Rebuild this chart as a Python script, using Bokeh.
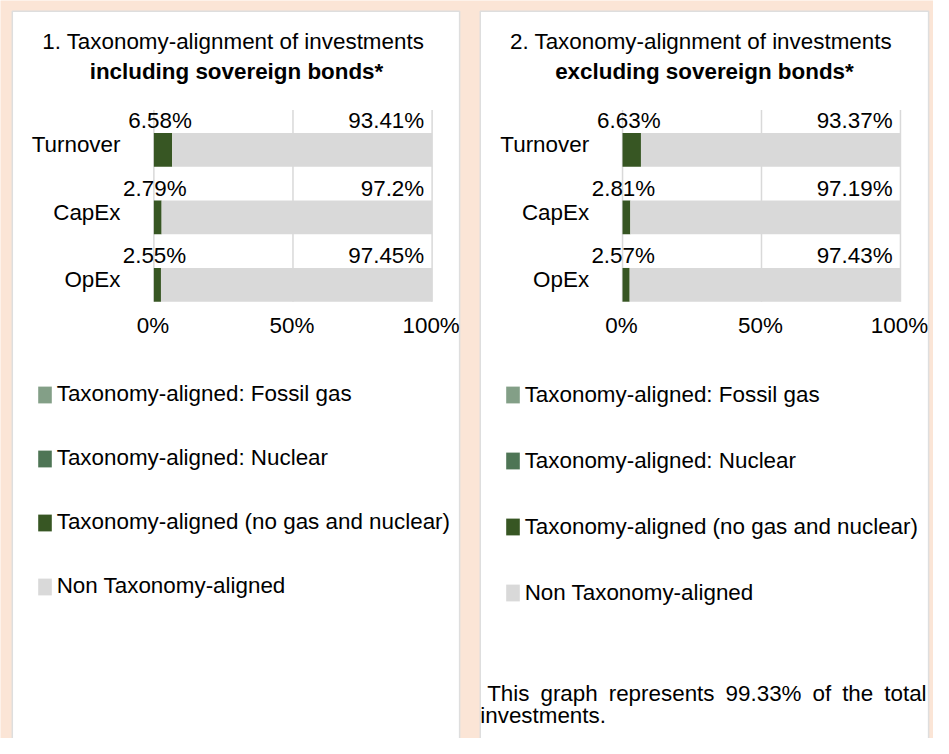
from bokeh.plotting import figure
from bokeh.models import Range1d, ColumnDataSource, Legend, LegendItem
from bokeh.core.properties import value
from bokeh.embed import file_html
from bokeh.resources import INLINE

# ---------------- data ----------------
categories = ["Turnover", "CapEx", "OpEx"]
series_names = ["Taxonomy-aligned: Fossil gas",
                "Taxonomy-aligned: Nuclear",
                "Taxonomy-aligned (no gas and nuclear)",
                "Non Taxonomy-aligned"]
incl_fossil = [0.0, 0.0, 0.0]
incl_nuclear = [0.0, 0.0, 0.0]
incl_aligned = [6.58, 2.79, 2.55]
incl_non = [93.41, 97.2, 97.45]
excl_fossil = [0.0, 0.0, 0.0]
excl_nuclear = [0.0, 0.0, 0.0]
excl_aligned = [6.63, 2.81, 2.57]
excl_non = [93.37, 97.19, 97.43]
x_ticks = [0, 50, 100]
x_tick_labels = ["0%", "50%", "100%"]
title_line1 = ["1. Taxonomy-alignment of investments", "2. Taxonomy-alignment of investments"]
title_line2 = ["including sovereign bonds*", "excluding sovereign bonds*"]
footnote_line1 = "This graph represents 99.33% of the total"
footnote_line2 = "investments."

# ---------------- styles / layout ----------------
PEACH = "#FBE5D6"
C_FOSSIL = "#839F87"
C_NUCLEAR = "#4E7555"
C_ALIGNED = "#375623"
C_NON = "#D9D9D9"
FONT = value("Liberation Sans")

W, H = 933, 738          # figure size in screen px
RW, RH = 949.0, 754.0    # layout coordinate space
FX, FY = W / RW, H / RH
FSZ = 22.8               # font size in layout px
FS = f"{FSZ * FX:.1f}px"

ROW0 = 152.5      # layout y of first bar centre
PITCH = 69.0      # layout px per category
BAR_H = 0.5

panels = [
    dict(zero=156.0, hundred=439.0, box=(12, 467), t1x=236.7, t2x=240.0,
         aligned=incl_aligned, nuclear=incl_nuclear, fossil=incl_fossil, non=incl_non,
         leg_x=36.3, leg_first=403.0, leg_pitch=65.0),
    dict(zero=632.7, hundred=915.4, box=(488, 944), t1x=712.5, t2x=716.0,
         aligned=excl_aligned, nuclear=excl_nuclear, fossil=excl_fossil, non=excl_non,
         leg_x=512.3, leg_first=403.5, leg_pitch=67.0),
]

p = figure(width=W, height=H, x_range=Range1d(0, RW), y_range=Range1d(RH, 0),
           min_border=0, toolbar_location=None, output_backend="svg",
           x_axis_type=None, y_axis_type=None,
           background_fill_color=PEACH, border_fill_color=PEACH, outline_line_color=None)
p.xgrid.visible = False
p.ygrid.visible = False

# bar y-range (category index, top to bottom)
p.extra_y_ranges["yb"] = Range1d(start=(RH - ROW0) / PITCH, end=(0 - ROW0) / PITCH)

ypos = list(range(len(categories)))
n = len(categories)

for i, pn in enumerate(panels):
    s = (pn["hundred"] - pn["zero"]) / 100.0
    xr = f"x{i}"
    p.extra_x_ranges[xr] = Range1d(start=(0 - pn["zero"]) / s, end=(RW - pn["zero"]) / s)

    # white panel
    p.quad(left=[pn["box"][0]], right=[pn["box"][1]], top=[11], bottom=[RH + 20],
           fill_color="white", line_color="#DEDEDE", line_width=1.5)

    # titles
    p.text(x=[pn["t1x"]], y=[42], text=[title_line1[i]], text_font=FONT, text_font_size=FS,
           text_align="center", text_baseline="middle", text_color="black")
    p.text(x=[pn["t2x"]], y=[73], text=[title_line2[i]], text_font=FONT, text_font_size=FS,
           text_font_style="bold", text_align="center", text_baseline="middle", text_color="black")

    # grid lines
    p.segment(x0=x_ticks, x1=x_ticks, y0=[-0.587] * 3, y1=[n - 1 + BAR_H / 2] * 3,
              line_color="#D9D9D9", line_width=1.5, x_range_name=xr, y_range_name="yb")

    # stacked bars
    a = pn["aligned"]; nu = pn["nuclear"]; fo = pn["fossil"]; no = pn["non"]
    l1 = [0.0] * n
    r1 = list(a)
    r2 = [r1[k] + nu[k] for k in range(n)]
    r3 = [r2[k] + fo[k] for k in range(n)]
    r4 = [r3[k] + no[k] for k in range(n)]
    src = ColumnDataSource(dict(y=ypos, l1=l1, r1=r1, r2=r2, r3=r3, r4=r4))
    ra = p.hbar(y="y", left="l1", right="r1", height=BAR_H, fill_color=C_ALIGNED, line_color=None,
                source=src, x_range_name=xr, y_range_name="yb")
    rn = p.hbar(y="y", left="r1", right="r2", height=BAR_H, fill_color=C_NUCLEAR, line_color=None,
                source=src, x_range_name=xr, y_range_name="yb")
    rf = p.hbar(y="y", left="r2", right="r3", height=BAR_H, fill_color=C_FOSSIL, line_color=None,
                source=src, x_range_name=xr, y_range_name="yb")
    rnon = p.hbar(y="y", left="r3", right="r4", height=BAR_H, fill_color=C_NON, line_color=None,
                  source=src, x_range_name=xr, y_range_name="yb")

    # value labels
    p.text(x=[v / 2 for v in a], y=ypos, text=[f"{v:g}%" for v in a],
           x_offset=-3 * FX, y_offset=-29.5 * FY,
           text_font=FONT, text_font_size=FS, text_align="center", text_baseline="middle",
           text_color="black", x_range_name=xr, y_range_name="yb")
    p.text(x=[100] * n, y=ypos, text=[f"{v:g}%" for v in no],
           x_offset=-8 * FX, y_offset=-29.5 * FY,
           text_font=FONT, text_font_size=FS, text_align="right", text_baseline="middle",
           text_color="black", x_range_name=xr, y_range_name="yb")

    # category labels
    p.text(x=[0] * n, y=ypos, text=categories, x_offset=-34 * FX, y_offset=-5.3 * FY,
           text_font=FONT, text_font_size=FS, text_align="right", text_baseline="middle",
           text_color="black", x_range_name=xr, y_range_name="yb")

    # x tick labels
    p.text(x=x_ticks, y=[n - 1 + BAR_H / 2] * 3, text=x_tick_labels,
           x_offset=-1 * FX, y_offset=24.4 * FY,
           text_font=FONT, text_font_size=FS, text_align="center", text_baseline="middle",
           text_color="black", x_range_name=xr, y_range_name="yb")

    # legend
    row_h = 27
    spacing = int(round(pn["leg_pitch"] * FY - row_h))
    leg_h = 4 * row_h + 3 * spacing
    top_screen = pn["leg_first"] * FY - row_h / 2
    bottom_from_frame = H - (top_screen + leg_h)
    legend = Legend(
        items=[LegendItem(label=series_names[0], renderers=[rf]),
               LegendItem(label=series_names[1], renderers=[rn]),
               LegendItem(label=series_names[2], renderers=[ra]),
               LegendItem(label=series_names[3], renderers=[rnon])],
        location=(pn["leg_x"] * FX, bottom_from_frame),
        orientation="vertical", glyph_width=17, glyph_height=21, label_height=row_h,
        label_standoff=4, spacing=spacing, padding=0, margin=0,
        label_text_font="Liberation Sans", label_text_font_size=FS, label_text_color="black",
        background_fill_alpha=0, border_line_color=None)
    p.add_layout(legend)

# footnote, line 1 justified across the panel width
char_w = {"T": 611, "h": 556, "i": 222, "s": 500, "g": 556, "r": 333, "a": 556, "p": 556,
          "e": 556, "n": 556, "t": 278, "9": 556, ".": 278, "3": 556, "%": 889, "o": 556,
          "f": 278, "l": 222}
words = footnote_line1.split(" ")
wid = [sum(char_w.get(c, 556) for c in w) * FSZ / 1000.0 for w in words]
x_start, x_end = 495.0, 942.0
gap = (x_end - x_start - sum(wid)) / (len(words) - 1)
xs = []
cx = x_start
for w_ in wid:
    xs.append(cx)
    cx += w_ + gap
p.text(x=xs, y=[708] * len(words), text=words, text_font=FONT, text_font_size=FS,
       text_align="left", text_baseline="middle", text_color="black")
p.text(x=[488], y=[730], text=[footnote_line2], text_font=FONT, text_font_size=FS,
       text_align="left", text_baseline="middle", text_color="black")

open("out.html", "w").write(file_html(p, INLINE))
